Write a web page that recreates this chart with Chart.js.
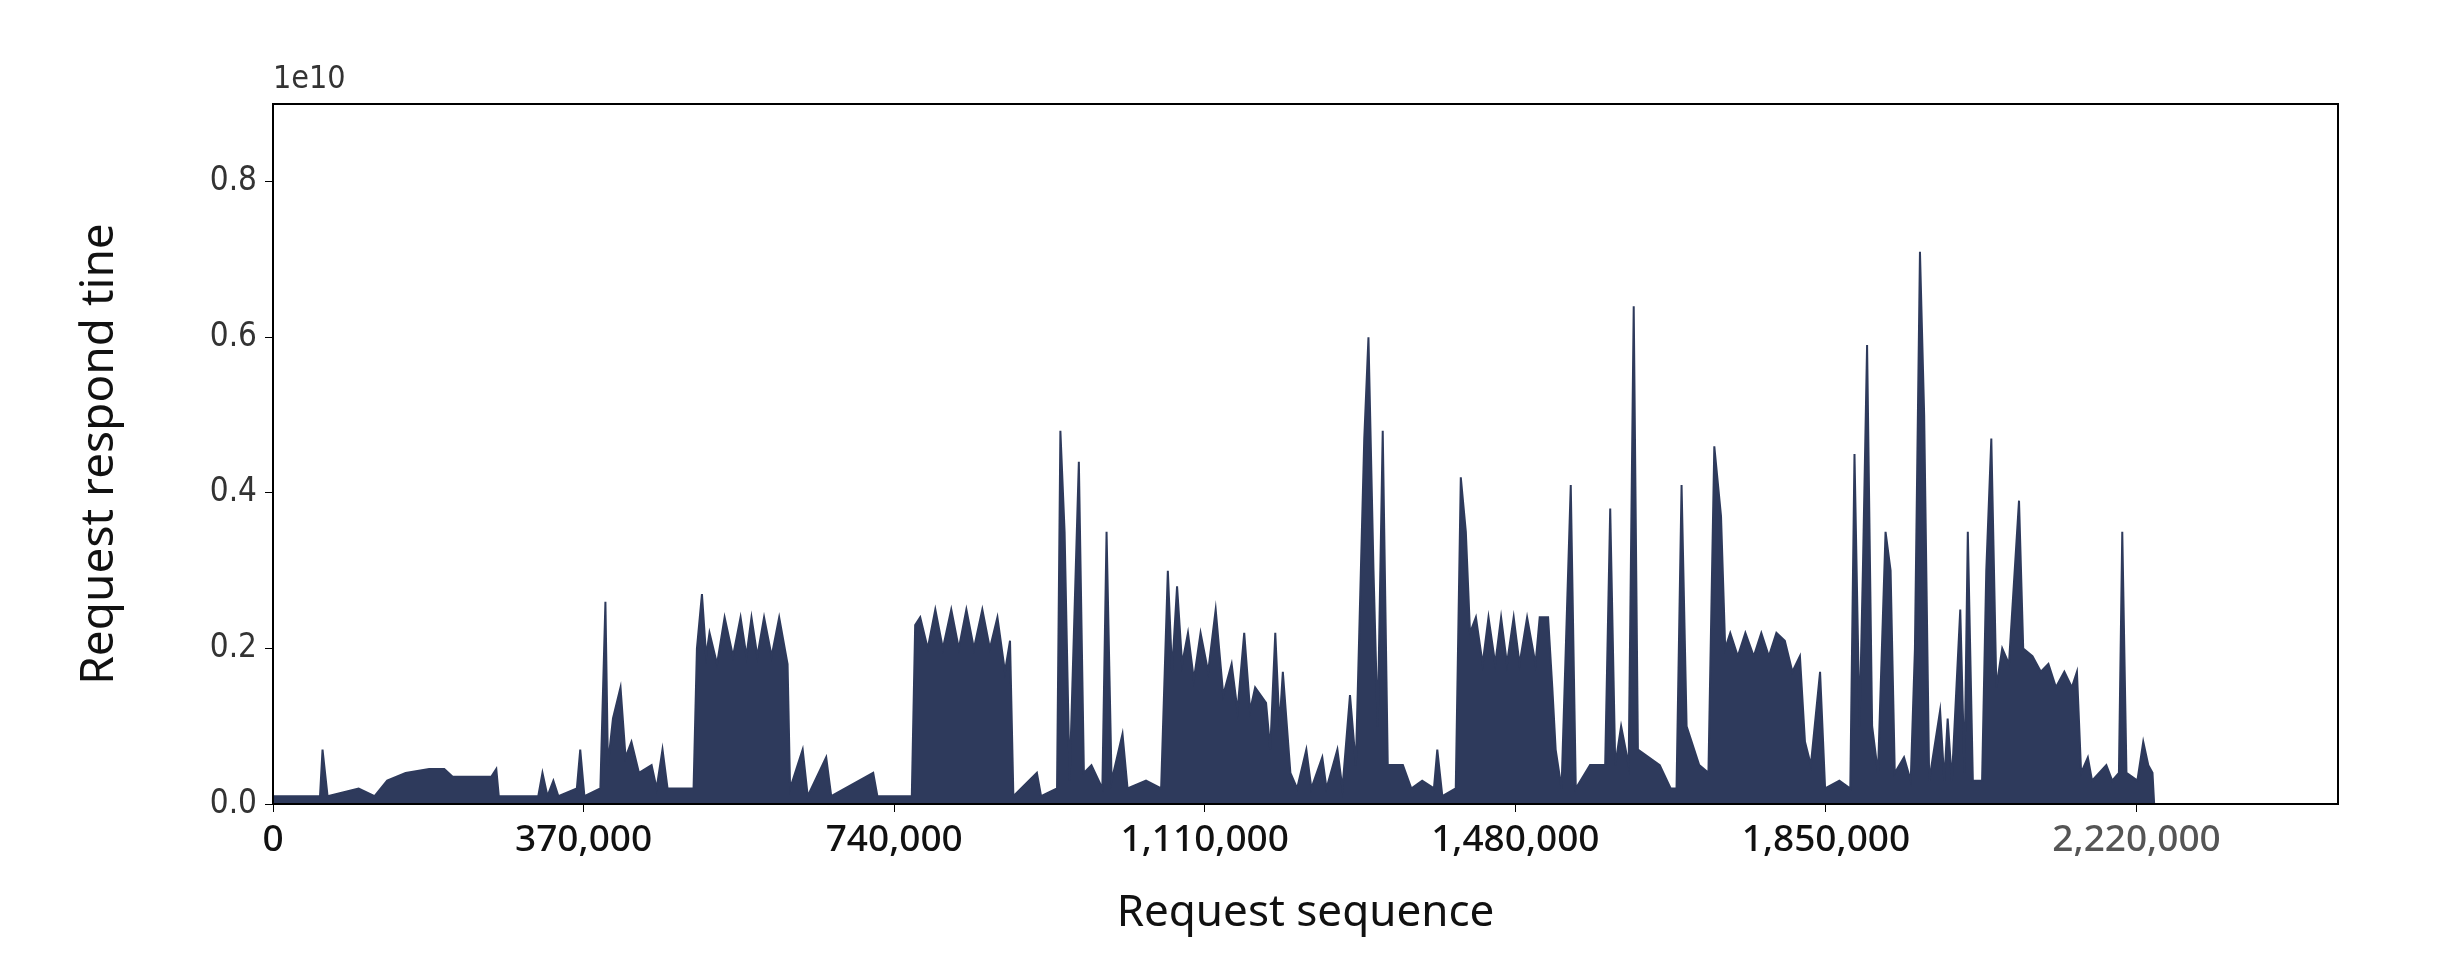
<!DOCTYPE html>
<html>
<head>
<meta charset="utf-8">
<script src="https://cdn.jsdelivr.net/npm/chart.js@4.4.1/dist/chart.umd.min.js"></script>
<style>
  html, body { margin: 0; padding: 0; background: #fff; }
  #wrap { width: 2444px; height: 968px; }
</style>
</head>
<body>
<div id="wrap"><canvas id="chResp"></canvas></div>
<script>
// Secuencia de peticiones (en miles) y tiempo de respuesta (en unidades de 1e10)
const secuenciaK = [
  0, 46, 56, 59, 65, 102, 121, 136, 158, 186, 204, 214, 260, 266, 269, 316, 321, 327, 334, 340,
  362, 366, 371, 390, 396, 399, 405, 414, 420, 427, 436, 451, 457, 464, 470, 501, 505, 511, 516, 520,
  529, 538, 548, 557, 564, 570, 577, 585, 594, 603, 613, 616, 631, 637, 659, 665, 715, 720, 761, 765,
  771, 780, 789, 798, 808, 817, 826, 835, 845, 854, 863, 872, 878, 882, 910, 915, 934, 938, 943, 949,
  960, 966, 975, 988, 993, 999, 1012, 1018, 1040, 1058, 1066, 1071, 1077, 1083, 1090, 1097, 1105, 1114, 1123, 1132,
  1142, 1149, 1157, 1164, 1170, 1183, 1188, 1194, 1199, 1203, 1212, 1220, 1231, 1237, 1250, 1255, 1268, 1274, 1283, 1290,
  1300, 1305, 1311, 1316, 1322, 1328, 1346, 1356, 1369, 1383, 1387, 1393, 1409, 1415, 1421, 1426, 1433, 1441, 1448, 1456,
  1463, 1470, 1478, 1485, 1494, 1504, 1509, 1519, 1524, 1528, 1535, 1546, 1552, 1569, 1587, 1593, 1599, 1606, 1615, 1621,
  1626, 1652, 1665, 1672, 1678, 1684, 1699, 1710, 1717, 1725, 1730, 1736, 1745, 1754, 1764, 1773, 1782, 1791, 1801, 1810,
  1819, 1825, 1832, 1843, 1849, 1866, 1879, 1884, 1890, 1894, 1899, 1905, 1912, 1921, 1927, 1932, 1943, 1951, 1956, 1962,
  1967, 1973, 1986, 1991, 1995, 2000, 2010, 2015, 2019, 2025, 2036, 2041, 2047, 2053, 2060, 2068, 2080, 2085, 2096, 2106,
  2115, 2124, 2134, 2143, 2149, 2154, 2162, 2167, 2184, 2191, 2199, 2203, 2208, 2221, 2228, 2234, 2239, 2241,
];
const tiempoResp = [
  0.01, 0.01, 0.01, 0.07, 0.01, 0.02, 0.01, 0.03, 0.04, 0.045, 0.045, 0.035, 0.035, 0.045, 0.01, 0.01, 0.04, 0.01, 0.03, 0.01,
  0.02, 0.07, 0.01, 0.02, 0.26, 0.05, 0.11, 0.15, 0.06, 0.08, 0.04, 0.05, 0.02, 0.07, 0.02, 0.02, 0.2, 0.27, 0.19, 0.22,
  0.18, 0.24, 0.19, 0.24, 0.19, 0.24, 0.19, 0.24, 0.19, 0.24, 0.18, 0.02, 0.07, 0.01, 0.06, 0.01, 0.04, 0.01, 0.01, 0.23,
  0.24, 0.2, 0.25, 0.2, 0.25, 0.2, 0.25, 0.2, 0.25, 0.2, 0.24, 0.17, 0.21, 0.01, 0.04, 0.01, 0.02, 0.48, 0.35, 0.03,
  0.44, 0.04, 0.05, 0.02, 0.35, 0.03, 0.09, 0.02, 0.03, 0.02, 0.30, 0.17, 0.28, 0.18, 0.22, 0.16, 0.22, 0.17, 0.25, 0.14,
  0.18, 0.12, 0.22, 0.12, 0.15, 0.13, 0.07, 0.22, 0.1, 0.17, 0.04, 0.02, 0.07, 0.02, 0.06, 0.02, 0.07, 0.02, 0.14, 0.05,
  0.47, 0.60, 0.3, 0.1, 0.48, 0.05, 0.05, 0.02, 0.03, 0.02, 0.07, 0.01, 0.02, 0.42, 0.35, 0.22, 0.24, 0.18, 0.24, 0.18,
  0.24, 0.18, 0.24, 0.18, 0.24, 0.18, 0.24, 0.24, 0.15, 0.07, 0.02, 0.41, 0.02, 0.05, 0.05, 0.38, 0.05, 0.1, 0.05, 0.64,
  0.07, 0.05, 0.02, 0.02, 0.41, 0.1, 0.05, 0.04, 0.46, 0.37, 0.2, 0.22, 0.19, 0.22, 0.19, 0.22, 0.19, 0.22, 0.21, 0.17,
  0.19, 0.08, 0.05, 0.17, 0.02, 0.03, 0.02, 0.45, 0.1, 0.30, 0.59, 0.1, 0.04, 0.35, 0.3, 0.04, 0.06, 0.03, 0.2, 0.71,
  0.5, 0.03, 0.12, 0.03, 0.11, 0.03, 0.25, 0.04, 0.35, 0.03, 0.03, 0.30, 0.47, 0.15, 0.20, 0.18, 0.39, 0.2, 0.19, 0.17,
  0.18, 0.15, 0.17, 0.15, 0.17, 0.04, 0.06, 0.03, 0.05, 0.03, 0.04, 0.35, 0.04, 0.03, 0.08, 0.05, 0.04, 0,
];
const ticksX = [0, 370000, 740000, 1110000, 1480000, 1850000, 2220000];
const ticksY = [0, 0.2, 0.4, 0.6, 0.8];

const COLOR_SERIE = "#2e3a5c";

/** Marco negro alrededor del area de la grafica y etiqueta "1e10". */
const marcoPlugin = {
  id: "marco",
  afterDraw(chart) {
    const { ctx, chartArea: a } = chart;
    ctx.save();
    ctx.strokeStyle = "#000";
    ctx.lineWidth = 2;
    ctx.strokeRect(a.left, a.top, a.right - a.left, a.bottom - a.top);
    ctx.fillStyle = "#333";
    ctx.font = "32px 'DejaVu Sans Condensed', 'DejaVu Sans'";
    ctx.textBaseline = "bottom";
    ctx.fillText("1e10", a.left, a.top - 8);
    ctx.restore();
  },
};

new Chart(document.getElementById("chResp"), {
  type: "line",
  data: {
    datasets: [{
      data: secuenciaK.map((s, i) => ({ x: s * 1000, y: tiempoResp[i] })),
      borderColor: COLOR_SERIE,
      backgroundColor: COLOR_SERIE,
      borderWidth: 2,
      pointRadius: 0,
      tension: 0,
      fill: "origin",
    }],
  },
  options: {
    responsive: true,
    maintainAspectRatio: false,
    animation: false,
    layout: { padding: { top: 104, right: 106, left: 0, bottom: 0 } },
    plugins: { legend: { display: false }, tooltip: { enabled: false } },
    scales: {
      x: {
        type: "linear",
        min: 0,
        max: 2460000,
        afterBuildTicks(scale) { scale.ticks = ticksX.map(v => ({ value: v })); },
        afterFit(scale) { scale.height = 164; },
        grid: { display: true, drawOnChartArea: false, tickLength: 8, color: "#000", tickColor: "#000" },
        border: { display: false },
        ticks: {
          callback: v => v.toLocaleString("en-US"),
          color: ctx => (ctx.index === 6 ? "#555" : "#111"),
          font: { family: "'Noto Sans'", size: 37, weight: "500" },
          padding: 6,
          maxRotation: 0,
        },
        title: {
          display: true,
          text: "Request sequence",
          color: "#111",
          font: { family: "'Noto Sans'", size: 44 },
          padding: { top: 0, bottom: 28 },
        },
      },
      y: {
        min: 0,
        max: 0.9,
        afterBuildTicks(scale) { scale.ticks = ticksY.map(v => ({ value: v })); },
        afterFit(scale) { scale.width = 273; },
        grid: { display: true, drawOnChartArea: false, tickLength: 8, color: "#000", tickColor: "#000" },
        border: { display: false },
        ticks: {
          callback: v => v.toFixed(1),
          color: "#333",
          font: { family: "'DejaVu Sans Condensed', 'DejaVu Sans'", size: 33 },
          padding: 8,
        },
        title: {
          display: true,
          text: "Request respond tine",
          color: "#111",
          font: { family: "'Noto Sans'", size: 46 },
          padding: { top: 72, bottom: 10 },
        },
      },
    },
  },
  plugins: [marcoPlugin],
});
</script>
</body>
</html>
